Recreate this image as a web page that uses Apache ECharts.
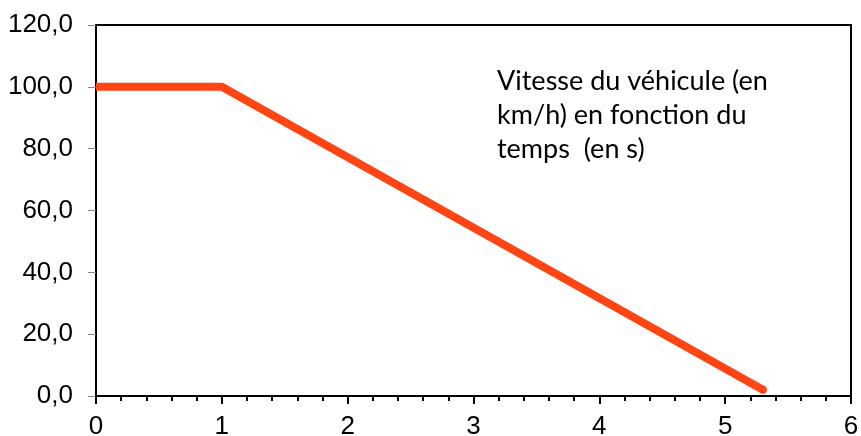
<!DOCTYPE html>
<html>
<head>
<meta charset="utf-8">
<script src="https://cdn.jsdelivr.net/npm/echarts@6/dist/echarts.min.js"></script>
<style>
  html, body { margin: 0; padding: 0; background: #fff; }
  #chart { width: 861px; height: 436px; }
</style>
</head>
<body>
<div id="chart"></div>
<script>
// temps (s) et vitesse (km/h)
var temps = [0, 1, 5.3];
var vitesse = [100, 100, 2];
var titre = ['Vitesse du véhicule (en', 'km/h) en fonction du', 'temps  (en s)'];

function virgule(v) {
    return v.toFixed(1).replace('.', ',');
}

function drawChart() {
    var points = temps.map(function (t, i) { return [t, vitesse[i]]; });
    var dernier = points.length - 1;

    var option = {
        animation: false,
        grid: {
            left: 96, right: 10, top: 25, bottom: 40,
            outerBoundsMode: 'none',
            show: true, borderColor: '#000', borderWidth: 2
        },
        xAxis: {
            type: 'value',
            min: 0, max: 6, interval: 1,
            axisLine: { lineStyle: { color: '#000', width: 2 } },
            axisTick: { inside: false, length: 8, lineStyle: { color: '#000', width: 2 } },
            minorTick: { show: true, splitNumber: 5, length: 5, lineStyle: { color: '#000', width: 2 } },
            splitLine: { show: false },
            axisLabel: { color: '#000', fontFamily: 'Liberation Sans', fontSize: 26, margin: 18 }
        },
        yAxis: {
            type: 'value',
            min: 0, max: 120, interval: 20,
            axisLine: { show: true, lineStyle: { color: '#000', width: 2 } },
            axisTick: { show: true, length: 8, lineStyle: { color: '#888', width: 1 } },
            splitLine: { show: false },
            axisLabel: {
                color: '#000', fontFamily: 'Liberation Sans', fontSize: 26, margin: 23,
                formatter: virgule
            }
        },
        graphic: [{
            type: 'text',
            left: 497, top: 64,
            style: {
                text: titre.join('\n'),
                fill: '#000',
                font: '27px Lato',
                lineHeight: 34
            }
        }],
        series: [{
            type: 'line',
            data: points,
            symbol: 'circle',
            showSymbol: true,
            symbolSize: function (v, p) { return p.dataIndex === dernier ? 8 : 0; },
            itemStyle: { color: '#ff4513', borderWidth: 0 },
            lineStyle: { color: '#ff4513', width: 8, cap: 'butt', join: 'round' }
        }]
    };

    var myChart = echarts.init(document.getElementById('chart'));
    myChart.setOption(option, true);
}

drawChart();
</script>
</body>
</html>
